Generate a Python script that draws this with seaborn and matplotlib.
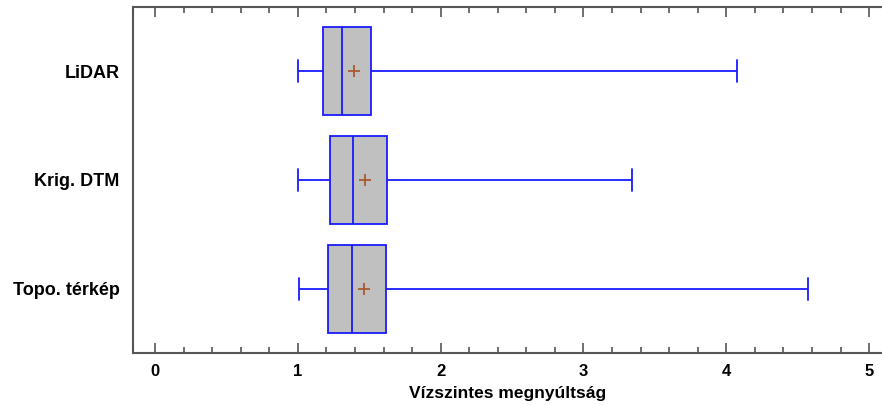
import numpy as np
import pandas as pd
import matplotlib
matplotlib.use("Agg")
import matplotlib.pyplot as plt
import seaborn as sns
from matplotlib.ticker import MultipleLocator

# ---- data ----
categories = ["LiDAR", "Krig. DTM", "Topo. térkép"]
whisker_low = [1.00, 1.00, 1.01]
q1_values = [1.176, 1.222, 1.208]
medians = [1.306, 1.386, 1.377]
q3_values = [1.510, 1.625, 1.618]
whisker_high = [4.074, 3.343, 4.570]
means = [1.391, 1.473, 1.461]
x_ticks = [0, 1, 2, 3, 4, 5]
x_label = "Vízszintes megnyúltság"

# five-number summaries as long-form data
rows = []
for c, lo, a, m, b, hi in zip(categories, whisker_low, q1_values, medians, q3_values, whisker_high):
    for v in (lo, a, m, b, hi):
        rows.append({"kat": c, "ertek": v})
df = pd.DataFrame(rows)
df_mean = pd.DataFrame({"kat": categories, "ertek": means})

sns.set_style("ticks")
plt.rcParams["font.family"] = ["Liberation Sans", "DejaVu Sans"]

fig = plt.figure(figsize=(8.82, 4.05), dpi=100)
ax = fig.add_axes([133.3 / 882, 1 - 353.3 / 405, 1 - 133.3 / 882, (353.3 - 6.7) / 405])

blue = "#1a1aff"
sns.boxplot(
    data=df, x="ertek", y="kat", order=categories, ax=ax,
    whis=(0, 100), width=0.8, color="#c0c0c0", linecolor=blue,
    linewidth=1.3, saturation=1, showfliers=False,
    capwidths=0.21,
)
sns.pointplot(
    data=df_mean, x="ertek", y="kat", order=categories, ax=ax,
    linestyle="none", marker="+", markersize=8, markeredgewidth=1.3,
    color="#a85a30", errorbar=None,
)

ax.set_xlim(-0.152, 5.09)
ax.set_ylim(2.59, -0.59)
ax.set_xticks(x_ticks)
ax.xaxis.set_minor_locator(MultipleLocator(0.2))
ax.tick_params(axis="x", which="both", direction="in", top=True, bottom=True,
               colors="#555555", labelcolor="black", labelsize=12, width=1.2, pad=8)
ax.tick_params(axis="x", which="major", length=7)
ax.tick_params(axis="x", which="minor", length=4)
ax.tick_params(axis="y", length=0, labelsize=13, pad=10, labelcolor="black")
for lab in ax.get_xticklabels() + ax.get_yticklabels():
    lab.set_fontweight("bold")

ax.set_xlabel(x_label, fontsize=12.5, fontweight="bold", labelpad=5, color="black")
ax.set_ylabel("")

for side in ["left", "top", "bottom"]:
    ax.spines[side].set_visible(True)
    ax.spines[side].set_color("#555555")
    ax.spines[side].set_linewidth(1.5)
ax.spines["right"].set_visible(False)

fig.savefig("out.png", dpi=100)
